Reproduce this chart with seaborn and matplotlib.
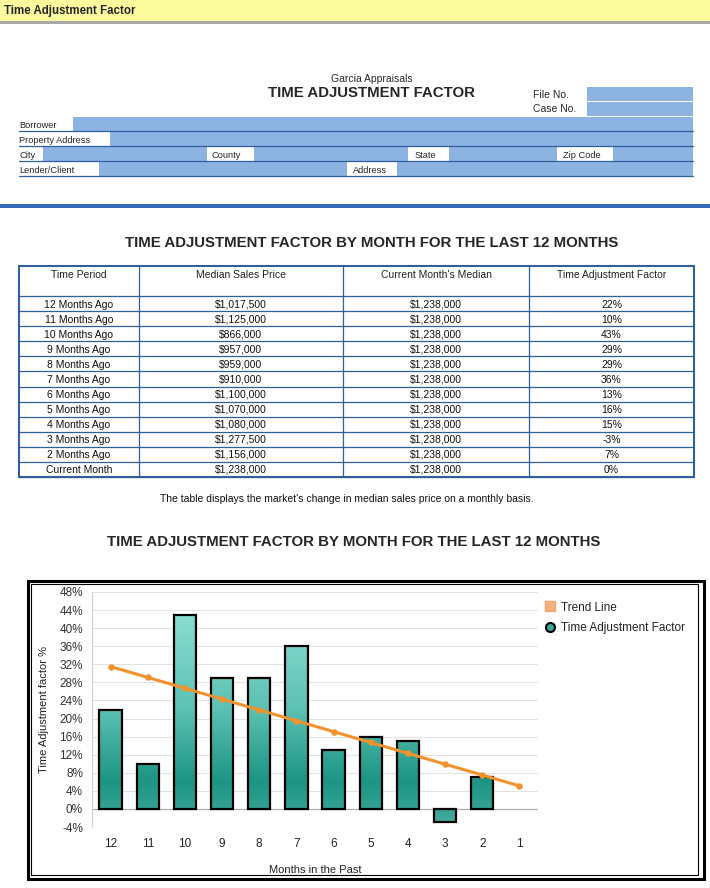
# =============================================================
#  Time Adjustment Factor – rapport Garcia Appraisals
#  Script  : plot.py
#  Rôle    : Formulaire + tableau + graphique (barres + tendance)
# =============================================================

import numpy as np
import pandas as pd
import matplotlib
matplotlib.use('Agg')
import matplotlib.pyplot as plt
import seaborn as sns
from matplotlib.patches import Rectangle
from matplotlib.lines import Line2D
from matplotlib.colors import LinearSegmentedColormap

# ──────────────────────────────────────────────────────────────
#  DONNÉES
# ──────────────────────────────────────────────────────────────
periodes = ['12 Months Ago', '11 Months Ago', '10 Months Ago', '9 Months Ago',
            '8 Months Ago', '7 Months Ago', '6 Months Ago', '5 Months Ago',
            '4 Months Ago', '3 Months Ago', '2 Months Ago', 'Current Month']
prix_median = [1017500, 1125000, 866000, 957000, 959000, 910000,
               1100000, 1070000, 1080000, 1277500, 1156000, 1238000]
prix_courant = [1238000, 1238000, 1238000, 1238000, 1238000, 1238000,
                1238000, 1238000, 1238000, 1238000, 1238000, 1238000]
facteur = [22, 10, 43, 29, 29, 36, 13, 16, 15, -3, 7, 0]

mois = ['12', '11', '10', '9', '8', '7', '6', '5', '4', '3', '2', '1']
tendance = [31.5, 29.1, 26.7, 24.3, 21.9, 19.5, 17.1, 14.7, 12.3, 9.9, 7.5, 5.1]
graduations_y = [-4, 0, 4, 8, 12, 16, 20, 24, 28, 32, 36, 40, 44, 48]

entetes = ['Time Period', 'Median Sales Price', "Current Month's Median",
           'Time Adjustment Factor']

TITRE = 'TIME ADJUSTMENT FACTOR BY MONTH FOR THE LAST 12 MONTHS'
LEGENDE = "The table displays the market's change in median sales price on a monthly basis."

# ──────────────────────────────────────────────────────────────
#  STYLE
# ──────────────────────────────────────────────────────────────
sns.set_theme(style='white')
plt.rcParams['font.family'] = ['Liberation Sans', 'DejaVu Sans']

BLEU_CHAMP = '#8db3e2'
BLEU_TRAIT = '#2f5f9e'
BLEU_BANDE = '#3768b4'
ORANGE = '#f0922e'

fig = plt.figure(figsize=(7.1, 8.88), dpi=100)

# Axe de fond en coordonnées pixels (0..710, 0..888 de haut en bas)
fond = fig.add_axes([0, 0, 1, 1])
fond.set_xlim(0, 710)
fond.set_ylim(888, 0)
fond.axis('off')


# ==============================================================
#  EN-TÊTE ET FORMULAIRE
# ==============================================================
def dessiner_formulaire(ax):
    ax.add_patch(Rectangle((0, 0), 710, 21, facecolor='#fbfb9e', edgecolor='none'))
    ax.add_patch(Rectangle((0, 21), 710, 3, facecolor='#a8a8a8', edgecolor='none'))
    ax.text(4, 11, 'Time Adjustment Factor', fontsize=8.3, fontweight='bold', va='center')

    ax.text(372, 79, 'Garcia Appraisals', fontsize=7.5, ha='center', va='center')
    ax.text(372, 93, 'TIME ADJUSTMENT FACTOR', fontsize=10.8, fontweight='bold',
            ha='center', va='center')

    ax.text(533, 95, 'File No.', fontsize=7.5, va='center')
    ax.add_patch(Rectangle((587, 87), 106, 14, facecolor=BLEU_CHAMP, edgecolor='none'))
    ax.text(533, 109, 'Case No.', fontsize=7.5, va='center')
    ax.add_patch(Rectangle((587, 102), 106, 14, facecolor=BLEU_CHAMP, edgecolor='none'))

    lignes = [
        ([('Borrower', 19)], [(73, 693)]),
        ([('Property Address', 19)], [(110, 693)]),
        ([('City', 19), ('County', 212), ('State', 415), ('Zip Code', 563)],
         [(43, 207), (254, 408), (449, 557), (613, 693)]),
        ([('Lender/Client', 19), ('Address', 353)], [(99, 347), (397, 693)]),
    ]
    for i, (etiquettes, champs) in enumerate(lignes):
        haut = 117 + 15 * i
        for x0, x1 in champs:
            ax.add_patch(Rectangle((x0, haut), x1 - x0, 14, facecolor=BLEU_CHAMP,
                                   edgecolor='none'))
        for texte, x in etiquettes:
            ax.text(x, haut + 8.5, texte, fontsize=6.7, va='center')
        ax.plot([19, 693], [haut + 14.5, haut + 14.5], color=BLEU_TRAIT, lw=0.9)

    ax.add_patch(Rectangle((0, 204), 710, 4, facecolor=BLEU_BANDE, edgecolor='none'))


# ==============================================================
#  TABLEAU
# ==============================================================
def dessiner_tableau(ax):
    ax.text(372, 243, TITRE, fontsize=10.8, fontweight='bold', ha='center', va='center')

    bords_x = [19, 139, 343, 529, 694]
    haut, bas_entete, h_ligne = 266, 296.5, 15
    bas = bas_entete + h_ligne * len(periodes)

    for i, titre in enumerate(entetes):
        xc = (bords_x[i] + bords_x[i + 1]) / 2
        ax.text(xc, 274.5, titre, fontsize=7.5, ha='center', va='center', color='#222222')

    for k, periode in enumerate(periodes):
        yc = bas_entete + h_ligne * k + h_ligne / 2 + 0.5
        valeurs = [periode, f'${prix_median[k]:,.0f}', f'${prix_courant[k]:,.0f}',
                   f'{facteur[k]}%']
        for i, v in enumerate(valeurs):
            xc = (bords_x[i] + bords_x[i + 1]) / 2
            ax.text(xc, yc, v, fontsize=7.5, ha='center', va='center', color='#111111')

    for k in range(len(periodes) + 1):
        y = bas_entete + h_ligne * k
        ax.plot([bords_x[0], bords_x[-1]], [y, y], color=BLEU_TRAIT, lw=0.9)
    for x in bords_x[1:-1]:
        ax.plot([x, x], [haut, bas], color=BLEU_TRAIT, lw=0.9)
    ax.add_patch(Rectangle((bords_x[0], haut), bords_x[-1] - bords_x[0], bas - haut,
                           fill=False, edgecolor=BLEU_TRAIT, lw=1.5))

    ax.text(347, 499, LEGENDE, fontsize=7.5, ha='center', va='center', color='#111111')
    ax.text(354, 542, TITRE, fontsize=10.8, fontweight='bold', ha='center', va='center')


# ==============================================================
#  GRAPHIQUE
# ==============================================================
def dessiner_graphique(fig, fond):
    # Cadre noir double autour du graphique
    fond.add_patch(Rectangle((28, 581), 675.5, 297.5, fill=False, edgecolor='black', lw=2.2))
    fond.add_patch(Rectangle((30.5, 584), 667.5, 290.5, fill=False, edgecolor='black', lw=0.8))

    ax = fig.add_axes([92 / 710, 1 - 827 / 888, 446 / 710, 235 / 888])
    ax.patch.set_alpha(0)

    df = pd.DataFrame({'mois': mois, 'facteur': facteur, 'tendance': tendance})

    sns.barplot(data=df, x='mois', y='facteur', order=mois, width=0.6,
                color='#2a9d8c', edgecolor='black', linewidth=1.6, ax=ax, zorder=3)

    # Dégradé vertical (clair en haut, foncé vers 6 %)
    degrade = LinearSegmentedColormap.from_list('sarcelle', [
        (0.0, '#4aafa2'),
        (4 / 52, '#33a293'),
        (10 / 52, '#1d9484'),
        (26 / 52, '#5cc1b3'),
        (1.0, '#95e3d7'),
    ])
    grad = np.linspace(48, -4, 256).reshape(-1, 1)
    for barre in ax.patches:
        if barre.get_height() == 0:
            barre.set_visible(False)
            continue
        x0, w = barre.get_x(), barre.get_width()
        im = ax.imshow(grad, cmap=degrade, vmin=-4, vmax=48, aspect='auto',
                       extent=(x0, x0 + w, -4, 48), origin='upper',
                       interpolation='bilinear', zorder=2.9)
        im.set_clip_path(barre)
        barre.set_facecolor('none')

    sns.pointplot(data=df, x='mois', y='tendance', order=mois, color=ORANGE,
                  markers='o', markersize=3, linewidth=2.2, ax=ax, zorder=5)

    ax.set_xlim(-0.5, len(mois) - 0.5)
    ax.set_ylim(-4, 48)
    ax.set_yticks(graduations_y)
    ax.set_yticklabels([f'{t}%' for t in graduations_y])
    ax.yaxis.grid(True, color='#e2e2e2', lw=0.8)
    ax.xaxis.grid(False)
    ax.set_axisbelow(True)
    ax.axhline(0, color='#b0b0b0', lw=0.9, zorder=2)

    for cote in ['top', 'right', 'bottom']:
        ax.spines[cote].set_visible(False)
    ax.spines['left'].set_color('#d0d0d0')
    ax.spines['left'].set_linewidth(0.8)

    ax.tick_params(axis='y', length=0, pad=6.5, labelsize=8.5, labelcolor='#333333')
    ax.tick_params(axis='x', length=0, pad=8, labelsize=8.5, labelcolor='#222222')

    ax.set_ylabel('Time Adjustment factor %', fontsize=8, color='#222222')
    ax.yaxis.set_label_coords(-0.097, 0.5)
    ax.set_xlabel('Months in the Past', fontsize=8, color='#222222')
    ax.xaxis.set_label_coords(0.5, -0.162)

    poignees = [
        Line2D([], [], ls='none', marker='s', ms=6.5, mfc='#f6b27e', mec='#f2a46a'),
        Line2D([], [], ls='none', marker='o', ms=6.5, mfc='#3aa898', mec='black', mew=1.5),
    ]
    fond.legend(poignees, ['Trend Line', 'Time Adjustment Factor'], loc='upper left',
                bbox_to_anchor=(535 / 710, 1 - 591 / 888), bbox_transform=fig.transFigure,
                frameon=False, fontsize=8.5, handlelength=0.8, handletextpad=0.5,
                labelspacing=0.75, labelcolor='#222222')
    return ax


dessiner_formulaire(fond)
dessiner_tableau(fond)
dessiner_graphique(fig, fond)

fig.savefig('out.png', dpi=100)
print("  ✓ Figure sauvegardée : out.png")
